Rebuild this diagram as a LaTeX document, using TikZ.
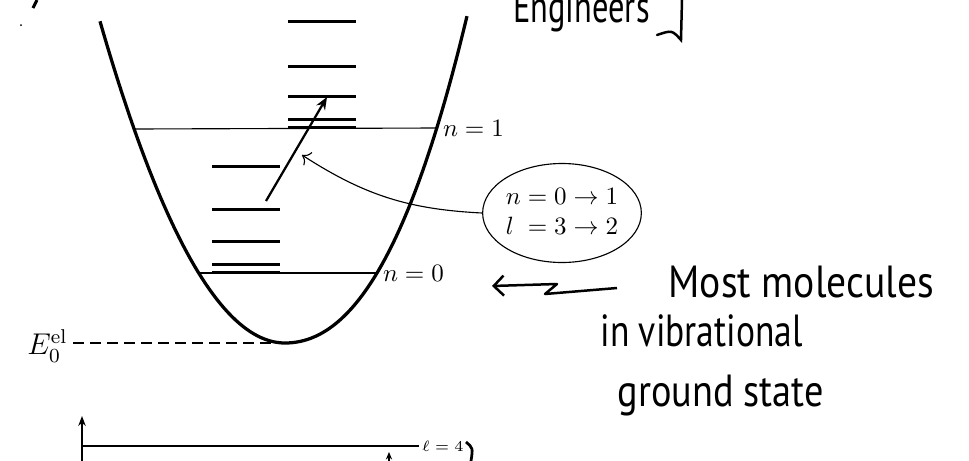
\documentclass[tikz,border=0pt]{standalone}
\usepackage{fontspec}
\newfontfamily\hand{PT Sans}
\usetikzlibrary{arrows.meta,shapes.geometric}
\begin{document}
\begin{tikzpicture}[x=0.4pt,y=-0.4pt,
  thinline/.style={line width=0.45pt},
  well/.style={line width=1.3pt},
  level/.style={line width=1.2pt},
  handtxt/.style={font=\hand\fontsize{18}{20}\selectfont, inner sep=0pt, anchor=base west},
  lbl/.style={inner sep=1pt, anchor=west}]
\useasboundingbox (0,0) rectangle (969,461);
\clip (0,0) rectangle (969,461);

% potential well (u = (x-285)/100)
\draw[well, line join=round] plot[domain=-1.85:0, samples=50] ({285+100*\x}, {343-94*\x*\x})
  -- plot[domain=0:1.82, samples=50] ({285+100*\x}, {343-66.3*\x*\x-17.8*\x*\x*\x});

% vibrational levels
\draw[thinline] (133,129) -- (438,128);
\draw[thinline] (199,273) -- (378,273);
\node[lbl] (n1) at (440,128) {$n = 1$};
\node[lbl] (n0) at (380,273) {$n = 0$};

% rotational levels
\foreach \y in {21,66,96,119,127} \draw[level] (288,\y) -- (356,\y);
\foreach \y in {166,209,241,264,272} \draw[level] (212,\y) -- (280,\y);

% electronic ground
\coordinate (bot) at (285,343);
\node[inner sep=2pt, anchor=east, font=\large] (E0) at (73,346) {$E_0^{\mathrm{el}}$};
\draw[thinline, dash pattern=on 4.4pt off 2.4pt] (E0.east |- bot) -- (bot);

% transition arrow
\coordinate (a0) at (266,201);
\coordinate (a1) at (327,97);
\draw[line width=0.9pt, -{Stealth[length=5pt,width=4pt]}] (a0) -- (a1);

% ellipse with transition text
\node[draw, thinline, ellipse, minimum width=62pt, minimum height=39.6pt, inner sep=0pt] (ell) at (562,213)
  {$\begin{array}{@{}l@{\;=\;}l@{}} n & 0 \rightarrow 1\\ l & 3 \rightarrow 2\end{array}$};
\coordinate (c1) at (302,155);
\draw[thinline, -{To[length=3pt]}] (ell.west) to[bend left=15] (c1);

% handwritten notes
\node[handtxt] (most) at (668,297) {\scalebox{0.88}[1]{Most molecules}};
\node[handtxt] (vib) at (600,346) {\scalebox{0.79}[1]{in vibrational}};
\node[handtxt] (gnd) at (617,406) {\scalebox{0.85}[1]{ground state}};
\node[handtxt] (eng) at (513,22) {\scalebox{0.72}[1]{Engineers}};

% wavy hand arrow
\coordinate (w0) at (617,288);
\coordinate (w1) at (545,294);
\coordinate (w2) at (557,284);
\coordinate (w3) at (492,286);
\draw[line width=1pt, line join=round, -{Straight Barb[length=4pt]}] (w0) -- (w1) -- (w2) -- (w3);

% bracket near Engineers
\coordinate (b0) at (682,0);
\coordinate (b1) at (681,40);
\coordinate (b2) at (657,35);
\draw[line width=1pt, line cap=round] (b0) -- (b1) .. controls (672,30) .. (b2);

% fragments top left
\coordinate (f0) at (33,8);
\coordinate (f1) at (37,0);
\draw[line width=1.2pt] (f0) -- (f1);
\fill (21,25) circle[radius=1];

% bottom rotational diagram
\coordinate (ax0) at (82,461);
\coordinate (ax1) at (82,416);
\draw[thinline, -{Stealth[length=4pt,width=3pt]}] (ax0) -- (ax1);
\coordinate (h0) at (82,446);
\node[inner sep=1pt, anchor=west, font=\fontsize{6}{7}\selectfont] (l4) at (419,446) {$\ell = 4$};
\draw[thinline] (h0) -- (l4.west);
\coordinate (s0) at (389,461);
\coordinate (s1) at (389,452);
\draw[thinline, -{Stealth[length=3pt,width=2.5pt]}] (s0) -- (s1);
\coordinate (p0) at (466,442);
\coordinate (p1) at (471,461);
\draw[line width=1.1pt] (p0) .. controls (473,448) .. (p1);
\end{tikzpicture}
\end{document}
